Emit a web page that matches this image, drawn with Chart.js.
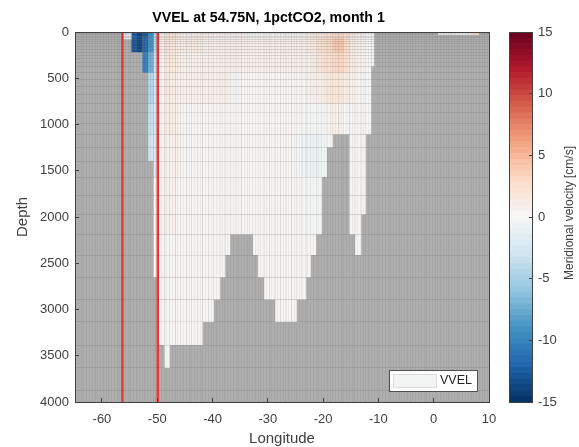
<!DOCTYPE html>
<html><head><meta charset="utf-8">
<style>html,body{margin:0;padding:0;background:#fff;width:579px;height:447px;overflow:hidden}
canvas{position:absolute;top:0}</style>
<script src="https://cdn.jsdelivr.net/npm/chart.js@4/dist/chart.umd.js"></script>
</head><body>
<canvas id="main" width="537" height="447" style="left:0"></canvas>
<canvas id="cbar" width="79" height="447" style="left:500px"></canvas>
<script>
const titleText = 'VVEL at 54.75N, 1pctCO2, month 1';
const xLabel = 'Longitude', yLabel = 'Depth', cbarLabel = 'Meridional velocity [cm/s]', seriesName = 'VVEL';
const xTicks = [-60,-50,-40,-30,-20,-10,0,10];
const yTicks = [0,500,1000,1500,2000,2500,3000,3500,4000];
const cbarTicks = [-15,-10,-5,0,5,10,15];
const redLineLons = [-56.3,-49.9];
// layer interfaces [m]
const depthEdges = [0,10,20,32,46,62,80,100,127,158,190,218,250,281,325,370,440,510,590,680,775,875,984,1106,1246,1395,1568,1770,1971,2187,2411,2652,2892,3135,3384,3632,3881,4000];
// column edges of the main basin [deg]
const lonEdges = [-56.53,-55.55,-54.67,-53.67,-52.68,-51.63,-50.67,-49.71,-48.68,-47.74,-46.71,-45.73,-44.74,-43.76,-42.77,-41.79,-40.78,-39.75,-38.61,-37.70,-36.80,-35.79,-34.77,-33.76,-32.69,-31.79,-30.65,-29.66,-28.66,-27.67,-26.67,-25.71,-24.74,-23.87,-23.06,-22.21,-21.25,-20.22,-19.32,-18.23,-17.24,-16.23,-15.23,-14.20,-13.11,-12.26,-11.30,-10.76];
// sea-floor depth per basin column [m]
const bottomDepth = [80,80,218,218,440,1395,2652,3384,3632,3384,3384,3384,3384,3384,3384,3135,3135,2892,2652,2411,2187,2187,2187,2187,2411,2652,2892,2892,3135,3135,3135,3135,2892,2892,2652,2411,2187,1568,1246,1106,1106,1106,2187,2411,1971,1106,370];
// shallow strip east of the basin
const stripEdges = [0.8,1.9,3.0,4.0,5.1,6.1,7.2,8.2];
const stripDepth = [32,32,32,32,32,32,32];
const vvelStrip = [-0.5,-0.5,-0.6,-0.4,0,0.6,1.6];
// velocity [cm/s] read per depth band, one value per basin column
const bandTops = [0,62,218,440,775,1106,1568,2187];
const vvel0 = [-2,-1.5,-12.5,-14,-12.5,-9,-4,0.3,1.5,1.5,1,0.8,0.8,0.7,0.7,0.6,0.5,0.5,0.6,0.6,0.5,0.5,0.5,0.4,0.4,0.3,0.3,0.3,0.3,0.4,0.4,0.3,0.4,0.5,0.8,1,1.3,1.6,2,2.6,2.8,2,1,0.6,0.3,0.3,0.2];
const vvel1 = [-2,-1.5,-13,-14,-12,-9,-4,0.5,2,1.8,1.2,1,1,1,1,0.9,0.8,0.8,0.8,0.8,0.8,0.7,0.7,0.7,0.7,0.6,0.6,0.6,0.6,0.6,0.6,0.6,0.7,0.8,1.1,1.4,2,2.5,3,3.8,3.8,2.5,1.2,0.6,0.4,0.3,0.2];
const vvel2 = [0,0,0,0,-10,-7.5,-3,0.4,1.8,1.5,1,0.8,0.8,0.8,0.8,0.7,0.7,0.7,0.7,0.7,0.6,0.6,0.6,0.6,0.6,0.5,0.5,0.5,0.5,0.5,0.5,0.5,0.5,0.6,0.8,1,1.5,2,2.6,3.2,3,2,1,0.5,0.3,0.3,0];
const vvel3 = [0,0,0,0,0,-4.5,-2.5,0.3,1.5,1.3,0.8,0.6,0.6,0.6,0.6,0.5,0.5,0.5,0.5,0.5,0.4,0.4,0.4,0.4,0.4,0.4,0.3,0.3,0.3,0.3,0.3,0.3,0.3,0.3,0.5,0.6,0.8,1.2,1.6,1.8,1.6,1,0.6,0.4,0.2,0.2,0];
const vvel4 = [0,0,0,0,0,-3.5,-2.5,0.2,1,1,0.6,0.4,0.3,0.3,0.3,0.3,0.3,0.3,0.3,0.3,0.3,0.3,0.2,0.2,0.2,0.2,0.2,0.1,0.1,0.1,0.1,0,0,-0.1,-0.2,-0.2,-0.2,0.2,0.5,0.7,0.6,0.4,0.3,0.2,0.1,0.1,0];
const vvel5 = [0,0,0,0,0,-3,-2,0.1,0.8,0.8,0.5,0.3,0.2,0.2,0.2,0.2,0.2,0.2,0.2,0.2,0.1,0.1,0.1,0.1,0.1,0.1,0,0,0,0,0,0,-0.1,-0.5,-0.5,-0.5,-0.5,-0.4,0,0,0,0,0.1,0.1,0.1,0,0];
const vvel6 = [0,0,0,0,0,0,-0.1,0.2,0.5,0.5,0.3,0.2,0.1,0.1,0.1,0.1,0.1,0.1,0.1,0.1,0.1,0.1,0.1,0.1,0,0,0,0,0,0,0,0,0,0,-0.1,-0.1,-0.1,0,0,0,0,0,0,0.1,0.1,0,0];
const vvel7 = [0,0,0,0,0,0,0,0.1,0.2,0.2,0.2,0.1,0.1,0.1,0.1,0.1,0.1,0.1,0.1,0.1,0.1,0.1,0.1,0.1,0.1,0.1,0.1,0.1,0.1,0.1,0.1,0.1,0.1,0.1,0.1,0.1,0.1,0,0,0,0,0,0,0,0,0,0];
const vvelBands = [vvel0,vvel1,vvel2,vvel3,vvel4,vvel5,vvel6,vvel7];

const climMin = -15, climMax = 15, levels = 64;
const rdbu = ['#053061','#2166ac','#4393c3','#92c5de','#d1e5f0','#f7f7f7','#fddbc7','#f4a582','#d6604d','#b2182b','#67001f'];
function hex(c){return [1,3,5].map(i=>parseInt(c.substr(i,2),16));}
function levelColor(k){
  const t=(k+0.5)/levels*(rdbu.length-1), i=Math.min(Math.floor(t),rdbu.length-2), f=t-i;
  const a=hex(rdbu[i]), b=hex(rdbu[i+1]);
  return 'rgb('+a.map((v,j)=>Math.round(v+(b[j]-v)*f)).join(',')+')';
}
function valueColor(v){
  const k=Math.max(0,Math.min(levels-1,Math.floor((v-climMin)/(climMax-climMin)*levels)));
  return levelColor(k);
}
function bandOf(depth){let b=0;bandTops.forEach((t,i)=>{if(depth>=t)b=i;});return b;}

Chart.defaults.font.family='"Liberation Sans", Arial, sans-serif';
Chart.defaults.color='#404040';
Chart.defaults.animation=false;

const axisColor='#404040';
// one floating-bar dataset per longitude column, one bar per depth layer
const columns=[];
lonEdges.slice(0,-1).forEach((w,c)=>columns.push({w,e:lonEdges[c+1],bottom:bottomDepth[c],value:d=>vvelBands[bandOf(d)][c]}));
stripEdges.slice(0,-1).forEach((w,c)=>columns.push({w,e:stripEdges[c+1],bottom:stripDepth[c],value:()=>vvelStrip[c]}));
const centers=columns.map(c=>(c.w+c.e)/2);
let minSpacing=Infinity;
for(let i=1;i<centers.length;i++) minSpacing=Math.min(minSpacing,centers[i]-centers[i-1]);
const fieldSets=columns.map((col,i)=>{
  const rows=depthEdges.slice(0,-1).map((top,l)=>({top,bot:depthEdges[l+1]})).filter(r=>r.bot<=col.bottom);
  return {
    type:'bar', label:seriesName, order:2, grouped:false, categoryPercentage:1,
    barPercentage:(col.e-col.w)/minSpacing,
    data:rows.map(r=>({x:centers[i],y:[r.top,r.bot]})),
    backgroundColor:rows.map(r=>valueColor(col.value(r.top)))
  };
});
const redSets=redLineLons.map(x=>({
  type:'line', label:'edge', order:0, borderColor:'#ee3a3a', borderWidth:2.5, pointRadius:0,
  data:[yTicks[0],yTicks[yTicks.length-1]].map(y=>({x,y}))
}));

const meshLon=[]; for(let v=-64.75;v<10;v+=0.5) meshLon.push(v);

const decor={
  id:'decor',
  afterLayout(c){ c.titleBlock.left=0; c.titleBlock.right=537; },
  beforeDatasetsDraw(c){
    const a=c.chartArea,x=c.ctx; x.save(); x.fillStyle='#aeaeae'; x.fillRect(a.left,a.top,a.right-a.left,a.bottom-a.top); x.restore();
  },
  afterDraw(c){
    const x=c.ctx; x.save();
    x.fillStyle='#fff'; x.strokeStyle='#505050'; x.lineWidth=1;
    x.fillRect(389,370,88,21.5); x.strokeRect(389.5,370.5,88,21);
    x.fillStyle='#f3f5f5'; x.strokeStyle='#dcdcdc';
    x.fillRect(393.5,374.5,43,13); x.strokeRect(393.5,374.5,43,13);
    x.fillStyle='#262626'; x.font='12.5px "Liberation Sans", Arial, sans-serif'; x.textBaseline='middle'; x.textAlign='left';
    x.fillText(seriesName,440,381);
    x.restore();
  }
};

new Chart(document.getElementById('main'),{
  type:'bar',
  data:{datasets:[...redSets,...fieldSets]},
  plugins:[decor],
  options:{
    responsive:false, animation:false,
    layout:{padding:{left:0,right:48,top:0,bottom:0}},
    plugins:{
      legend:{display:false}, tooltip:{enabled:false},
      title:{display:true,text:titleText,color:'#000',font:{size:14.2,weight:'bold'},padding:{top:10,bottom:5}}
    },
    scales:{
      x:{type:'linear',position:'bottom',min:-64.875,max:10,offset:false,
         afterBuildTicks:s=>{s.ticks=xTicks.map(value=>({value}));},
         afterFit:s=>{s.height=45;},
         grid:{display:true,offset:false,z:2,drawOnChartArea:false,drawTicks:true,tickLength:-4,tickColor:axisColor},
         border:{display:true,color:axisColor,z:3},
         ticks:{autoSkip:false,maxRotation:0,padding:14,font:{size:13},color:axisColor},
         title:{display:true,text:xLabel,color:axisColor,font:{size:15},padding:{top:0,bottom:-1}}},
      y:{type:'linear',position:'left',min:0,max:4000,reverse:true,
         afterBuildTicks:s=>{s.ticks=yTicks.map(value=>({value}));},
         afterFit:s=>{s.width=75;},
         grid:{display:true,z:2,drawOnChartArea:false,drawTicks:true,tickLength:-4,tickColor:axisColor},
         border:{display:true,color:axisColor,z:3},
         ticks:{autoSkip:false,padding:10,font:{size:13},color:axisColor,callback:v=>String(v)},
         title:{display:true,text:yLabel,color:axisColor,font:{size:15},padding:{top:14,bottom:0}}},
      xMesh:{type:'linear',axis:'x',position:'top',min:-64.875,max:10,offset:false,
         afterBuildTicks:s=>{s.ticks=meshLon.map(value=>({value}));},
         afterFit:s=>{s.height=0;},
         ticks:{display:false},
         grid:{display:true,offset:false,z:1,drawTicks:false,color:'rgba(0,0,0,0.05)',lineWidth:1},
         border:{display:true,color:axisColor,z:3}},
      yMesh:{type:'linear',axis:'y',position:'right',min:0,max:4000,reverse:true,
         afterBuildTicks:s=>{s.ticks=depthEdges.map(value=>({value}));},
         afterFit:s=>{s.width=0;},
         ticks:{display:false},
         grid:{display:true,z:1,drawTicks:false,color:'rgba(0,0,0,0.075)',lineWidth:1},
         border:{display:true,color:axisColor,z:3}}
    }
  }
});

const cbarSets=[];
for(let k=0;k<levels;k++){
  const w=(climMax-climMin)/levels;
  cbarSets.push({label:'level',data:[[climMin+k*w,climMin+(k+1)*w]],backgroundColor:levelColor(k),
    barPercentage:1,categoryPercentage:1,grouped:false});
}
const cbarDecor={
  id:'cbarDecor',
  afterDraw(c){
    const a=c.chartArea,x=c.ctx; x.save();
    x.strokeStyle=axisColor; x.lineWidth=1;
    x.strokeRect(Math.round(a.left)+0.5,Math.round(a.top)+0.5,Math.round(a.right-a.left),Math.round(a.bottom-a.top));
    x.translate(70,213); x.rotate(-Math.PI/2);
    x.fillStyle=axisColor; x.font='12px "Liberation Sans", Arial, sans-serif'; x.textAlign='center'; x.textBaseline='middle';
    x.fillText(cbarLabel,0,0);
    x.restore();
  }
};
new Chart(document.getElementById('cbar'),{
  type:'bar',
  data:{labels:[''],datasets:cbarSets},
  plugins:[cbarDecor],
  options:{
    responsive:false, animation:false,
    layout:{padding:{left:9,right:0,top:32,bottom:45}},
    plugins:{legend:{display:false},tooltip:{enabled:false},title:{display:false}},
    scales:{
      x:{display:false},
      y:{type:'linear',position:'right',min:climMin,max:climMax,
         afterBuildTicks:s=>{s.ticks=cbarTicks.map(value=>({value}));},
         afterFit:s=>{s.width=47;},
         grid:{display:true,z:2,drawOnChartArea:false,drawTicks:true,tickLength:-3,tickColor:axisColor},
         border:{display:false},
         ticks:{autoSkip:false,padding:9,font:{size:13},color:axisColor}}
    }
  }
});
</script>
</body></html>
